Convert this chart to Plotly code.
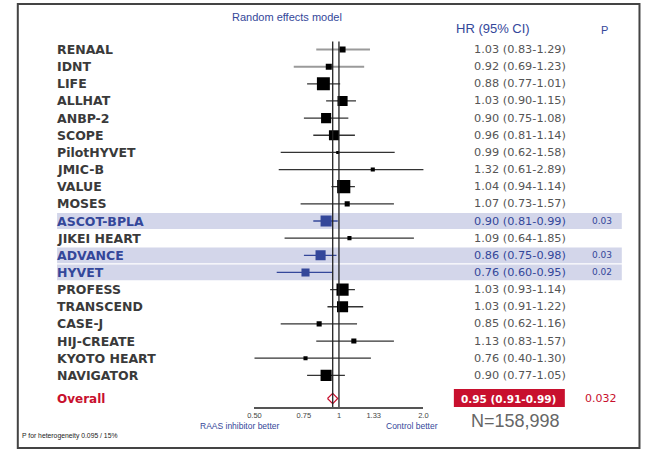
import plotly.graph_objects as go

# ---------------- data ----------------
studies = ["RENAAL", "IDNT", "LIFE", "ALLHAT", "ANBP-2", "SCOPE", "PilotHYVET",
           "JMIC-B", "VALUE", "MOSES", "ASCOT-BPLA", "JIKEI HEART", "ADVANCE",
           "HYVET", "PROFESS", "TRANSCEND", "CASE-J", "HIJ-CREATE",
           "KYOTO HEART", "NAVIGATOR"]
hr = [1.03, 0.92, 0.88, 1.03, 0.90, 0.96, 0.99, 1.32, 1.04, 1.07,
      0.90, 1.09, 0.86, 0.76, 1.03, 1.03, 0.85, 1.13, 0.76, 0.90]
ci_lo = [0.83, 0.69, 0.77, 0.90, 0.75, 0.81, 0.62, 0.61, 0.94, 0.73,
         0.81, 0.64, 0.75, 0.60, 0.93, 0.91, 0.62, 0.83, 0.40, 0.77]
ci_hi = [1.29, 1.23, 1.01, 1.15, 1.08, 1.14, 1.58, 2.89, 1.14, 1.57,
         0.99, 1.85, 0.98, 0.95, 1.14, 1.22, 1.16, 1.57, 1.30, 1.05]
weight_pct = [2.4, 2.4, 11.0, 6.7, 6.7, 6.7, 0.6, 1.1, 11.4, 1.7,
              8.1, 1.1, 6.7, 4.3, 9.7, 8.1, 1.7, 1.7, 1.1, 8.1]
p_values = ["", "", "", "", "", "", "", "", "", "",
            "0.03", "", "0.03", "0.02", "", "", "", "", "", ""]
significant = [p != "" for p in p_values]

overall_hr, overall_lo, overall_hi = 0.95, 0.91, 0.99
overall_p = "0.032"
total_n = "N=158,998"
heterogeneity = "P for heterogeneity 0.095 / 15%"

tick_vals = [0.5, 0.75, 1.0, 1.33, 2.0]
tick_text = ["0.50", "0.75", "1", "1.33", "2.0"]

# ---------------- styles ----------------
W, H = 671, 449
BLUE = "#34479a"
RED = "#c8102e"
DARK = "#3a3a3a"
GRAY = "#555555"
BAND = "#d3d6ea"

row_px0, row_step = 49.5, 17.15          # pixel centre of first row, spacing
plot_bottom_px = 407.0
y_top = -row_px0 / row_step
y_bot = (plot_bottom_px - row_px0) / row_step
overall_row = len(studies) + 0.35


def px(x):
    return x / W


fig = go.Figure()

# CI lines
for i, (lo, hi, sig, name) in enumerate(zip(ci_lo, ci_hi, significant, studies)):
    light = name in ("RENAAL", "IDNT")
    fig.add_trace(go.Scatter(
        x=[lo, hi], y=[i, i], mode="lines",
        line=dict(color=BLUE if sig else ("#9a9a9a" if light else "#333333"),
                  width=2 if light else 1.3),
        hoverinfo="skip", showlegend=False))

# point estimates (squares)
fig.add_trace(go.Scatter(
    x=hr, y=list(range(len(studies))), mode="markers",
    marker=dict(symbol="square", opacity=1,
                size=[3.9 * w ** 0.5 for w in weight_pct],
                color=[BLUE if s else "#000000" for s in significant],
                line=dict(width=0)),
    showlegend=False, hoverinfo="skip"))

# overall diamond
d_h = 0.3
fig.add_trace(go.Scatter(
    x=[overall_lo, overall_hr, overall_hi, overall_hr, overall_lo],
    y=[overall_row, overall_row - d_h, overall_row, overall_row + d_h, overall_row],
    mode="lines", line=dict(color=RED, width=1.2),
    showlegend=False, hoverinfo="skip"))

shapes = []
# highlight bands
for i, sig in enumerate(significant):
    if sig:
        shapes.append(dict(type="rect", xref="paper", yref="y",
                           x0=px(51), x1=px(626), y0=i - 0.46, y1=i + 0.46,
                           fillcolor=BAND, line=dict(width=0), layer="below"))
# vertical reference lines
for xv in (1.0, overall_hr):
    shapes.append(dict(type="line", xref="x", yref="y", x0=xv, x1=xv,
                       y0=-0.47, y1=y_bot, line=dict(color="#222222", width=1.3)))
# outer frame
shapes.append(dict(type="rect", xref="paper", yref="paper",
                   x0=px(11), x1=px(644), y0=1 - 448 / H, y1=1 - 4 / H,
                   line=dict(color="#444444", width=2)))
# red box for overall
shapes.append(dict(type="rect", xref="paper", yref="y",
                   x0=px(455), x1=px(568), y0=overall_row - 0.55, y1=overall_row + 0.55,
                   fillcolor=RED, line=dict(width=0)))

ann = []


def add_text(text, x, y, yref="paper", anchor="center", **font):
    ann.append(dict(text=text, xref="paper", yref=yref, x=px(x),
                    y=(1 - y / H) if yref == "paper" else y,
                    xanchor=anchor, yanchor="middle", showarrow=False, font=font))


add_text("Random effects model", 285, 17, family="Liberation Sans", size=11, color=BLUE)
add_text("HR (95% CI)", 495, 28, family="Liberation Sans", size=13, color=BLUE)
add_text("P", 608, 30, family="Liberation Sans", size=11, color=BLUE)

for i, name in enumerate(studies):
    col = BLUE if significant[i] else DARK
    add_text(name, 49, i, yref="y", anchor="left",
             family="DejaVu Sans", size=12.5, color=col, weight="bold")
    add_text(f"{hr[i]:.2f} ({ci_lo[i]:.2f}-{ci_hi[i]:.2f})", 571, i, yref="y",
             anchor="right", family="DejaVu Sans", size=11.3,
             color=BLUE if significant[i] else GRAY)
    if p_values[i]:
        add_text(p_values[i], 618, i, yref="y", anchor="right",
                 family="DejaVu Sans", size=9, color=BLUE)

add_text("Overall", 49, overall_row, yref="y", anchor="left",
         family="DejaVu Sans", size=12, color=RED, weight="bold")
add_text(f"{overall_hr:.2f} ({overall_lo:.2f}-{overall_hi:.2f})", 511, overall_row,
         yref="y", family="DejaVu Sans", size=10.5, color="white", weight="bold")
add_text(overall_p, 605, overall_row, yref="y",
         family="DejaVu Sans", size=11, color=RED)
add_text(total_n, 470, 421, anchor="left", family="Liberation Sans", size=18, color="#666666")
add_text("RAAS inhibitor better", 237, 426, family="Liberation Sans", size=8.5, color=BLUE)
add_text("Control better", 412, 426, family="Liberation Sans", size=8.5, color=BLUE)
add_text(heterogeneity, 13, 436, anchor="left", family="Liberation Sans", size=6.8,
         color="#222222")

fig.update_layout(
    width=W, height=H, margin=dict(l=0, r=0, t=0, b=0),
    paper_bgcolor="white", plot_bgcolor="white",
    shapes=shapes, annotations=ann, showlegend=False,
    xaxis=dict(type="log", domain=[px(252), px(424)],
               range=[-0.30103, 0.30103],
               tickvals=tick_vals, ticktext=tick_text,
               tickfont=dict(family="Liberation Sans", size=7.5, color="#444444"),
               showline=True, linecolor="#555555", linewidth=1.5,
               showgrid=False, zeroline=False, ticks="", fixedrange=True),
    yaxis=dict(domain=[1 - plot_bottom_px / H, 1], range=[y_bot, y_top],
               visible=False, showgrid=False, zeroline=False, fixedrange=True),
)

fig.write_html("out.html", config={"displayModeBar": False},
               post_script="document.body.style.margin='0';")
